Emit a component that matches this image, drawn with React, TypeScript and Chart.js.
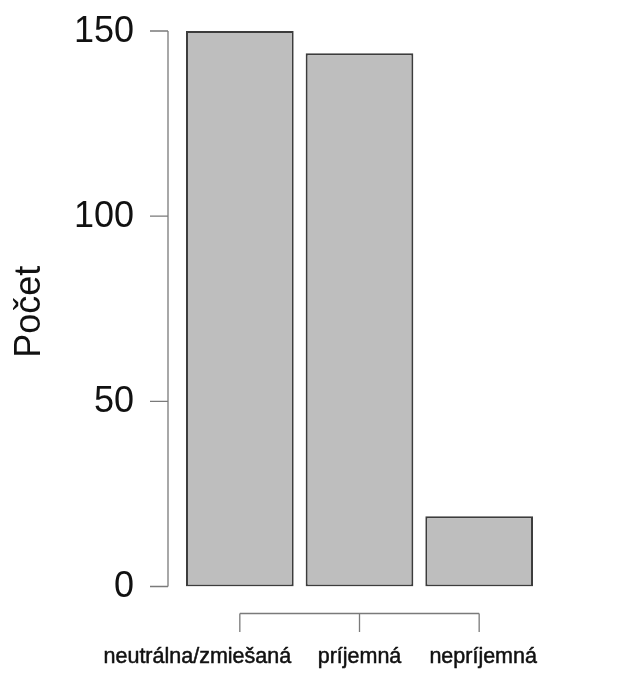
import React, { useEffect, useRef } from "react";
import { Chart, registerables } from "chart.js";

Chart.register(...registerables);

// ---- data ----
const categories = ["neutrálna/zmiešaná", "príjemná", "nepríjemná"];
const counts = [150, 144, 19];
const yTicks = [0, 50, 100, 150];
const yTitle = "Počet";

// ---- styles ----
const FONT = '"Liberation Sans", Arial, Helvetica, sans-serif';
const LABEL_SHIFT = [-42.5, 0, 4];
const AXIS_COLOR = "#7a7a7a";
const TEXT_COLOR = "#111111";

const rAxesPlugin = {
  id: "rAxes",
  afterDraw(chart: any) {
    const { ctx, scales, chartArea } = chart;
    const xs = scales.x;
    const ys = scales.y;
    ctx.save();
    ctx.strokeStyle = AXIS_COLOR;
    ctx.lineWidth = 1.3;

    // y axis (detached, R style)
    const ax = chartArea.left - 12;
    const yBot = ys.getPixelForValue(yTicks[0]);
    const yTop = ys.getPixelForValue(yTicks[yTicks.length - 1]);
    ctx.beginPath();
    ctx.moveTo(ax, yBot);
    ctx.lineTo(ax, yTop);
    yTicks.forEach((v) => {
      const py = ys.getPixelForValue(v);
      ctx.moveTo(ax, py);
      ctx.lineTo(ax - 18, py);
    });
    ctx.stroke();

    // x axis
    const ay = chartArea.bottom + 27;
    const xFirst = xs.getPixelForValue(0);
    const xLast = xs.getPixelForValue(categories.length - 1);
    ctx.beginPath();
    ctx.moveTo(xFirst, ay);
    ctx.lineTo(xLast, ay);
    categories.forEach((_, i) => {
      const px = xs.getPixelForValue(i);
      ctx.moveTo(px, ay);
      ctx.lineTo(px, ay + 18.5);
    });
    ctx.stroke();

    ctx.fillStyle = TEXT_COLOR;

    // y tick labels
    ctx.font = `36px ${FONT}`;
    ctx.textAlign = "right";
    ctx.textBaseline = "middle";
    yTicks.forEach((v) => {
      const py = ys.getPixelForValue(v);
      ctx.fillText(String(v), ax - 34, py + 1);
    });

    // x category labels
    ctx.font = `21.5px ${FONT}`;
    ctx.textAlign = "center";
    ctx.textBaseline = "alphabetic";
    ctx.strokeStyle = TEXT_COLOR;
    ctx.lineWidth = 0.5;
    ctx.lineJoin = "round";
    categories.forEach((c, i) => {
      const px = xs.getPixelForValue(i) + LABEL_SHIFT[i];
      ctx.fillText(c, px, ay + 49.5);
      ctx.strokeText(c, px, ay + 49.5);
    });

    // y title
    ctx.font = `36px ${FONT}`;
    ctx.textAlign = "center";
    ctx.textBaseline = "middle";
    ctx.save();
    ctx.translate(30, (chartArea.top + chartArea.bottom) / 2 + 3);
    ctx.rotate(-Math.PI / 2);
    ctx.fillText(yTitle, 0, 0);
    ctx.restore();

    ctx.restore();
  },
};

export default function App() {
  const canvasRef = useRef<HTMLCanvasElement | null>(null);

  useEffect(() => {
    if (!canvasRef.current) return;
    const chart = new Chart(canvasRef.current, {
      type: "bar",
      data: {
        labels: categories,
        datasets: [
          {
            data: counts,
            backgroundColor: "#bebebe",
            borderColor: "#3c3c3c",
            borderWidth: 2,
            borderSkipped: false,
            barPercentage: 0.9,
            categoryPercentage: 1,
          },
        ],
      },
      options: {
        responsive: false,
        animation: false,
        devicePixelRatio: 1,
        layout: { padding: { left: 180, right: 99, top: 31, bottom: 94.5 } },
        plugins: {
          legend: { display: false },
          tooltip: { enabled: false },
          title: { display: false },
        },
        scales: {
          x: { type: "category", display: false, offset: true },
          y: { type: "linear", display: false, min: 0, max: 150 },
        },
      },
      plugins: [rAxesPlugin],
    });
    return () => chart.destroy();
  }, []);

  return (
    <div style={{ position: "fixed", left: 0, top: 0, width: 638, height: 681, background: "#fff" }}>
      <canvas ref={canvasRef} width={638} height={681} style={{ display: "block" }} />
    </div>
  );
}
